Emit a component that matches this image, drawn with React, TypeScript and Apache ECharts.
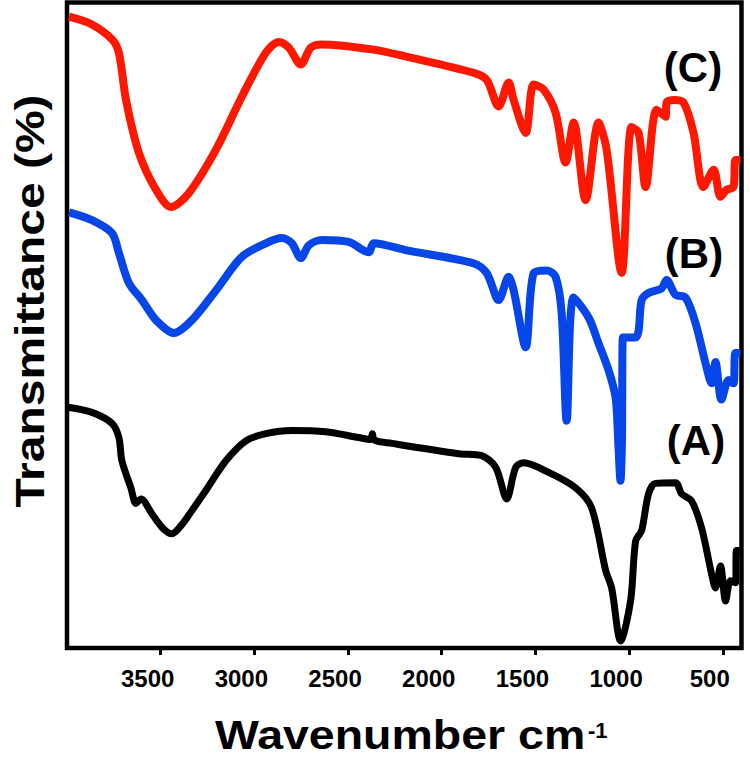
import React, { useEffect, useRef } from "react";
import * as echarts from "echarts";

// Wavenumber (cm-1) / relative transmittance pairs
const spectrumA: [number, number][] = [
  [3995, 37.3], [3867, 36.5], [3760, 34.8], [3723, 32.6], [3707, 29.0], [3659, 24.8],
  [3632, 22.4], [3605, 23.1], [3547, 20.8], [3490, 18.6], [3440, 17.7], [3390, 19.0], [3333, 21.3],
  [3259, 24.4], [3152, 29.0], [3045, 32.1], [2939, 33.2], [2800, 33.7], [2619, 33.5],
  [2443, 32.6], [2380, 32.3], [2370, 33.2], [2360, 32.2], [2267, 31.7], [1909, 30.1],
  [1787, 29.8], [1712, 28.0], [1653, 23.1], [1605, 28.0], [1563, 28.7], [1429, 27.2],
  [1285, 24.8], [1200, 21.7], [1125, 12.0], [1093, 9.3], [1045, 1.1], [992, 7.3],
  [965, 16.6], [933, 18.2], [896, 23.9], [859, 25.5], [752, 25.6], [720, 23.9],
  [667, 22.8], [613, 18.6], [560, 11.5], [539, 9.3], [512, 12.7], [485, 7.3],
  [459, 10.4], [432, 10.1], [427, 15.1], [405, 15.1]
];

const spectrumB: [number, number][] = [
  [3989, 67.5], [3867, 66.3], [3760, 64.3], [3723, 61.2], [3669, 56.5], [3600, 53.9],
  [3525, 50.8], [3429, 48.8], [3333, 50.8], [3205, 55.4], [3067, 60.6], [2939, 62.7],
  [2853, 63.5], [2800, 62.7], [2752, 60.4], [2709, 62.4], [2640, 63.2], [2496, 62.9],
  [2389, 61.3], [2363, 62.7], [2187, 61.6], [1829, 59.6], [1760, 58.1], [1696, 53.9],
  [1643, 57.5], [1616, 55.4], [1552, 46.6], [1509, 58.1], [1440, 58.5], [1392, 57.5],
  [1360, 51.9], [1333, 35.2], [1296, 54.3], [1216, 51.2], [1163, 47.2], [1109, 43.0],
  [1072, 38.8], [1058, 32.0], [1046, 25.9], [1038, 32.0], [1033, 48.1], [965, 48.1],
  [949, 49.2], [933, 53.9], [896, 55.0], [827, 55.7], [800, 57.0], [752, 54.7],
  [699, 54.3], [645, 50.3], [592, 44.1], [560, 41.0], [539, 44.3], [507, 38.5],
  [469, 41.5], [443, 41.0], [432, 45.7], [405, 45.7]
];

const spectrumC: [number, number][] = [
  [3989, 97.8], [3867, 96.6], [3760, 94.3], [3723, 92.2], [3685, 84.9], [3616, 76.7],
  [3525, 71.0], [3445, 68.3], [3349, 70.5], [3205, 77.2], [3067, 85.4], [2939, 92.2],
  [2869, 93.9], [2816, 93.0], [2752, 90.4], [2699, 93.0], [2640, 93.5], [2363, 92.7],
  [2187, 91.6], [1829, 89.1], [1760, 88.0], [1696, 83.9], [1643, 87.6], [1616, 84.9],
  [1552, 79.8], [1509, 87.3], [1456, 86.5], [1392, 82.9], [1339, 75.2], [1296, 81.4],
  [1232, 69.4], [1163, 81.4], [1120, 77.2], [1040, 58.1], [987, 80.7], [949, 79.8],
  [912, 71.4], [853, 83.4], [805, 82.3], [800, 84.5], [763, 84.9], [709, 84.5],
  [656, 79.8], [603, 71.4], [549, 74.1], [512, 69.9], [480, 71.0], [443, 71.4],
  [432, 75.6], [405, 75.6]
];

const tickValues = [3500, 3000, 2500, 2000, 1500, 1000, 500];
const curveLabels = ["(A)", "(B)", "(C)"];

const FONT = "'Liberation Sans', Arial, Helvetica, sans-serif";

export default function App() {
  const ref = useRef<HTMLDivElement>(null);
  useEffect(() => {
    if (!ref.current) return;
    const chart = echarts.init(ref.current, undefined, { renderer: "svg" });
    const labelPos = [
      { x: 696, y: 440 },
      { x: 694, y: 253 },
      { x: 693, y: 67 }
    ];
    chart.setOption({
      animation: false,
      backgroundColor: "#ffffff",
      grid: {
        show: true,
        left: 67,
        top: 2.5,
        right: 8.5,
        bottom: 111,
        borderColor: "#000",
        borderWidth: 4.5,
        backgroundColor: "transparent"
      },
      xAxis: {
        type: "value",
        min: 400,
        max: 4000,
        inverse: true,
        splitLine: { show: false },
        axisLine: { show: false },
        axisTick: {
          show: true,
          inside: false,
          length: 7,
          lineStyle: { color: "#000", width: 3 },
          customValues: tickValues
        },
        axisLabel: {
          customValues: tickValues,
          formatter: (v: number) => String(v),
          color: "#000",
          fontSize: 24,
          fontWeight: "bold",
          fontFamily: FONT,
          margin: 18,
          padding: [0, 26, 0, 0]
        }
      },
      yAxis: {
        type: "value",
        min: 0,
        max: 100,
        show: false,
        splitLine: { show: false }
      },
      series: [
        {
          type: "line",
          data: spectrumA,
          showSymbol: false,
          smooth: 0.3,
          lineStyle: { color: "#000000", width: 7 },
          z: 3
        },
        {
          type: "line",
          data: spectrumB,
          showSymbol: false,
          smooth: 0.3,
          lineStyle: { color: "#0645e8", width: 8 },
          z: 4
        },
        {
          type: "line",
          data: spectrumC,
          showSymbol: false,
          smooth: 0.3,
          lineStyle: { color: "#ff1800", width: 8 },
          z: 5
        }
      ],
      graphic: [
        ...curveLabels.map((t, i) => ({
          type: "text",
          x: labelPos[i].x,
          y: labelPos[i].y,
          style: {
            text: t,
            fill: "#000",
            font: `bold 42px ${FONT}`,
            textAlign: "center",
            textVerticalAlign: "middle"
          },
          z: 10
        })),
        {
          type: "text",
          x: 30,
          y: 301,
          rotation: Math.PI / 2,
          scaleX: 1.17,
          style: {
            text: "Transmittance (%)",
            fill: "#000",
            font: `bold 41px ${FONT}`,
            textAlign: "center",
            textVerticalAlign: "middle"
          }
        },
        {
          type: "text",
          x: 215,
          y: 735,
          scaleX: 1.134,
          style: {
            text: "Wavenumber cm",
            fill: "#000",
            font: `bold 41px ${FONT}`,
            textAlign: "left",
            textVerticalAlign: "middle"
          }
        },
        {
          type: "text",
          x: 588,
          y: 730,
          style: {
            text: "-1",
            fill: "#000",
            font: `bold 22px ${FONT}`,
            textAlign: "left",
            textVerticalAlign: "middle"
          }
        }
      ]
    });
    return () => chart.dispose();
  }, []);
  return (
    <div
      ref={ref}
      style={{ position: "fixed", left: 0, top: 0, width: 750, height: 759 }}
    />
  );
}
